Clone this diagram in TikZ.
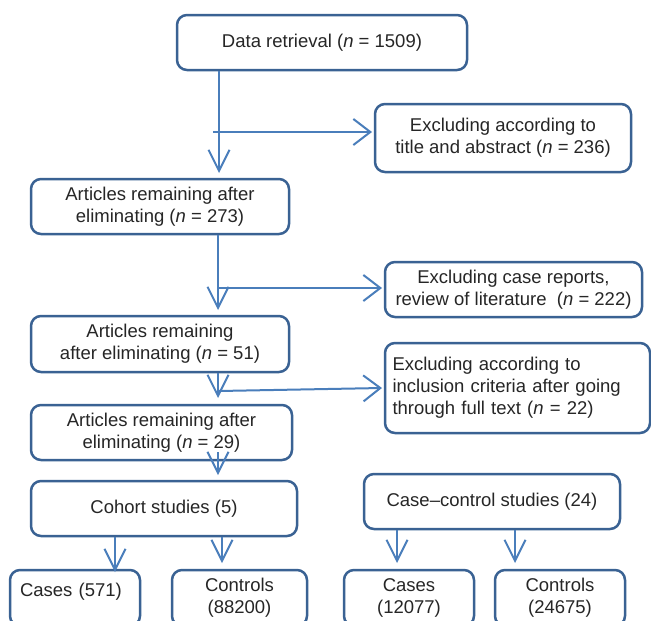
\documentclass[tikz,border=0pt]{standalone}
\usepackage{fontspec}
\setmainfont{Liberation Sans}
\usetikzlibrary{arrows.meta}
\definecolor{bordercol}{HTML}{3A6293}
\definecolor{arrowcol}{HTML}{4A7EBB}
\definecolor{txtcol}{HTML}{262626}
\tikzset{
  box/.style={draw=bordercol, line width=2.5pt, rounded corners=10pt, fill=white,
    text=txtcol, align=center, inner sep=0pt, font=\fontsize{18.5}{22}\selectfont},
  varr/.style={draw=arrowcol, line width=2pt, -{Straight Barb[length=21pt,width=21pt]}},
  harr/.style={draw=arrowcol, line width=2pt, -{Straight Barb[length=17pt,width=26pt]}}
}
\begin{document}
\begin{tikzpicture}[x=1pt,y=-1pt]
\useasboundingbox (0,0) rectangle (651,621);
\clip (0,0) rectangle (651,621);
% boxes
\node[box, minimum width=290, minimum height=55] (A) at (322,42.5) {Data retrieval (\textit{n} = 1509)};
\node[box, minimum width=256, minimum height=68] (B) at (503,138) {Excluding according to\\title and abstract (\textit{n} = 236)};
\node[box, minimum width=258, minimum height=55] (C) at (160,206.5) {Articles remaining after\\eliminating (\textit{n} = 273)};
\node[box, minimum width=257, minimum height=55] (F) at (513.5,289.5) {Excluding case reports,\\review of literature\ \ (\textit{n} = 222)};
\node[box, minimum width=258, minimum height=56] (D) at (160,344) {Articles remaining\\after eliminating (\textit{n} = 51)};
\node[box, minimum width=265, minimum height=90, text width=250, align=left] (G) at (517.5,388) {Excluding according to\\inclusion criteria after going\\through full text (\textit{n} = 22)};
\node[box, minimum width=261, minimum height=55] (E) at (161.5,432.5) {Articles remaining after\\eliminating (\textit{n} = 29)};
\node[box, minimum width=266, minimum height=55] (Coh) at (164,508.5) {Cohort studies (5)};
\node[box, minimum width=256, minimum height=55] (CC) at (492,501.5) {Case--control studies (24)};
\node[box, minimum width=130, minimum height=56, text width=110, align=left, text depth=16pt] (K1) at (75,598) {Cases (571)};
\node[box, minimum width=135, minimum height=56] (K2) at (239.5,598) {Controls\\(88200)};
\node[box, minimum width=130, minimum height=56] (K3) at (409,598) {Cases\\(12077)};
\node[box, minimum width=130, minimum height=56] (K4) at (560,598) {Controls\\(24675)};
% connector end points
\coordinate (t1) at (219,173);
\coordinate (h1) at (213,132);
\coordinate (h1e) at (372,132);
\coordinate (t2) at (218,310);
\coordinate (h2) at (218,288);
\coordinate (h2e) at (382,288);
\coordinate (t3) at (218,398);
\coordinate (h3) at (219,391);
\coordinate (h3e) at (382,388);
\coordinate (s4) at (218,452);
\coordinate (t4) at (218,475);
\coordinate (t5a) at (115,572);
\coordinate (t5b) at (222,563);
\coordinate (t6a) at (397,563);
\coordinate (t6b) at (515,563);
% connectors
\draw[varr] (A.south -| t1) -- (t1);
\draw[harr] (h1) -- (h1e);
\draw[varr] (C.south -| t2) -- (t2);
\draw[harr] (h2) -- (h2e);
\draw[varr] (D.south -| t3) -- (t3);
\draw[harr] (h3) -- (h3e);
\draw[varr] (s4) -- (t4);
\draw[varr] (Coh.south -| t5a) -- (t5a);
\draw[varr] (Coh.south -| t5b) -- (t5b);
\draw[varr] (CC.south -| t6a) -- (t6a);
\draw[varr] (CC.south -| t6b) -- (t6b);
\end{tikzpicture}
\end{document}
